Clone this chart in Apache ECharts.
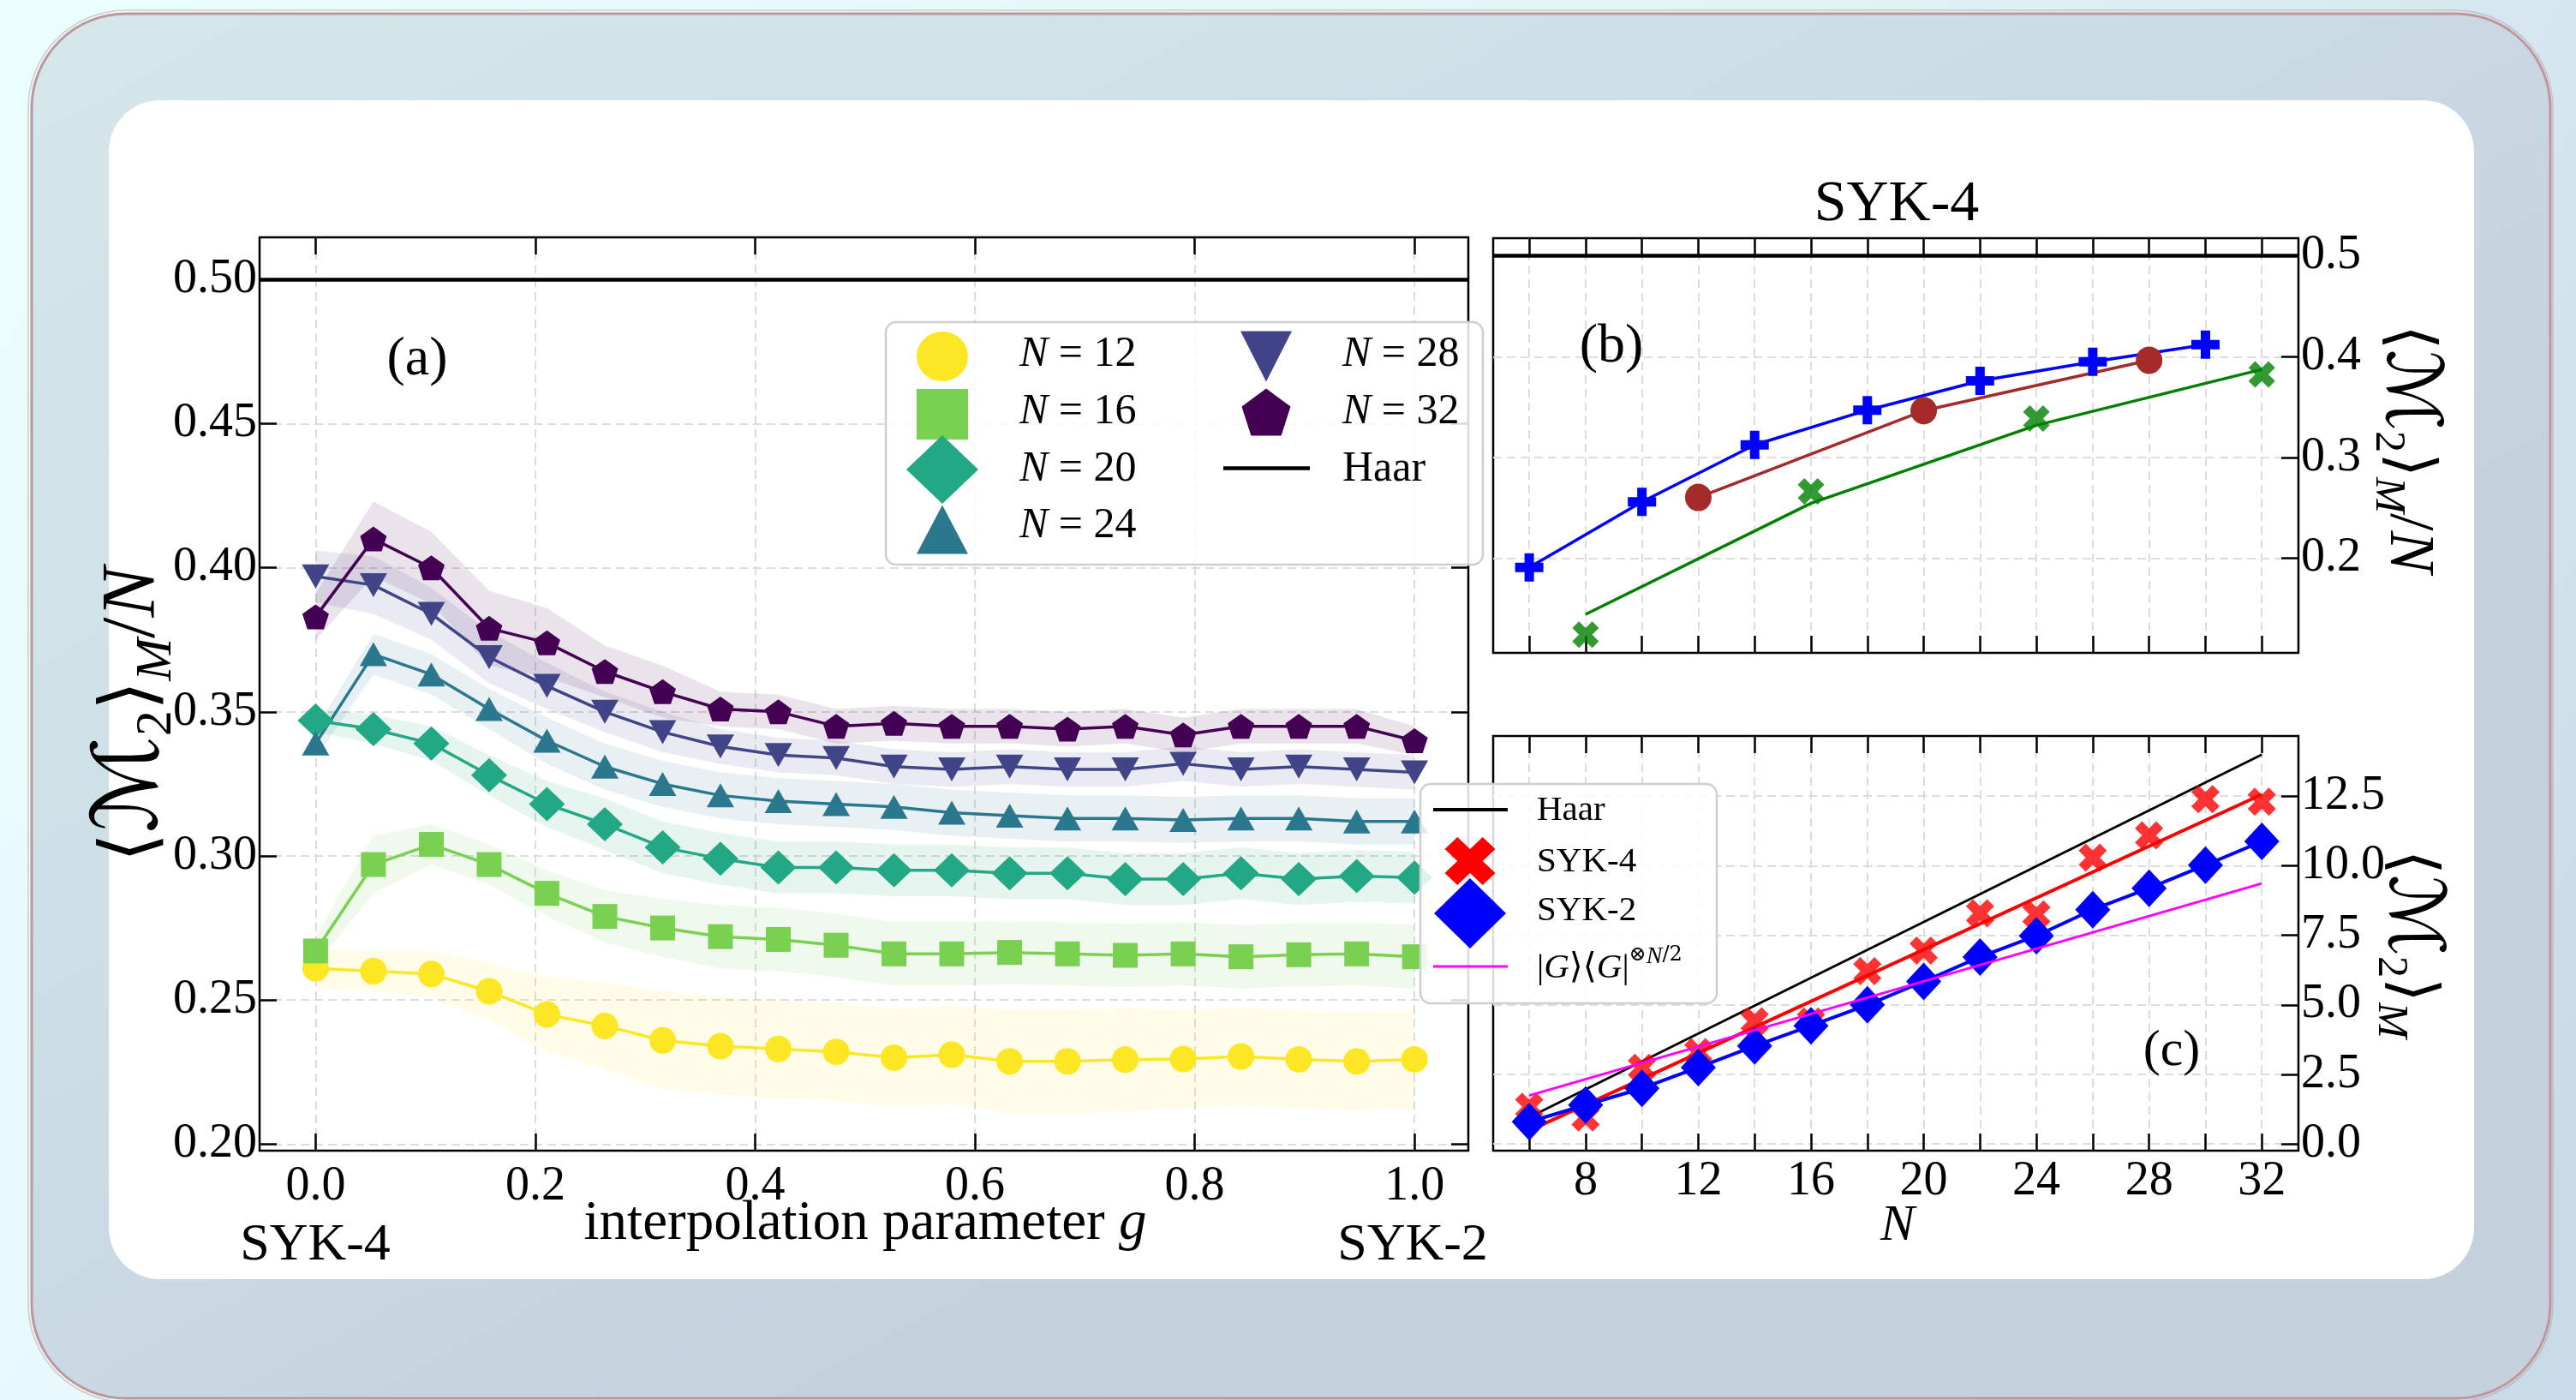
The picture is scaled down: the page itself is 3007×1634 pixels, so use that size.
<!DOCTYPE html>
<html>
<head>
<meta charset="utf-8">
<title>Magic of SYK models</title>
<script src="https://cdn.jsdelivr.net/npm/echarts@6.0.0/dist/echarts.min.js"></script>
<style>
  html, body { margin: 0; padding: 0; }
  #chart { width: 3007px; height: 1634px; }
</style>
</head>
<body>
<div id="chart"></div>
<script>
// ---------- panel (a): <M2>_M / N against the interpolation parameter g ----------
const G_SAMPLES = [0.0, 0.0526, 0.1053, 0.1579, 0.2105, 0.2632, 0.3158, 0.3684, 0.4211, 0.4737,
                   0.5263, 0.5789, 0.6316, 0.6842, 0.7368, 0.7895, 0.8421, 0.8947, 0.9474, 1.0];
const SIZES_N = [12, 16, 20, 24, 28, 32];

const M2N_N12 = [0.261, 0.260, 0.259, 0.253, 0.245, 0.241, 0.236, 0.234, 0.233, 0.232,
                 0.230, 0.231, 0.2287, 0.2287, 0.2293, 0.2295, 0.2304, 0.2294, 0.2287, 0.2294];
const M2N_N16 = [0.267, 0.297, 0.304, 0.297, 0.287, 0.279, 0.275, 0.272, 0.271, 0.269,
                 0.266, 0.266, 0.2665, 0.266, 0.2655, 0.266, 0.265, 0.2657, 0.266, 0.265];
const M2N_N20 = [0.347, 0.344, 0.339, 0.328, 0.318, 0.311, 0.303, 0.299, 0.296, 0.296,
                 0.295, 0.295, 0.294, 0.294, 0.292, 0.292, 0.294, 0.292, 0.293, 0.2925];
const M2N_N24 = [0.339, 0.370, 0.363, 0.351, 0.340, 0.331, 0.325, 0.321, 0.319, 0.318,
                 0.317, 0.315, 0.314, 0.313, 0.313, 0.3125, 0.313, 0.313, 0.312, 0.312];
const M2N_N28 = [0.397, 0.394, 0.384, 0.369, 0.359, 0.350, 0.343, 0.338, 0.335, 0.334,
                 0.331, 0.330, 0.331, 0.330, 0.330, 0.332, 0.330, 0.331, 0.330, 0.329];
const M2N_N32 = [0.383, 0.410, 0.400, 0.379, 0.374, 0.364, 0.357, 0.351, 0.350, 0.345,
                 0.346, 0.345, 0.345, 0.344, 0.345, 0.342, 0.345, 0.345, 0.345, 0.340];

// half-width of the shaded spread around each curve
const SPREAD_N12 = [0.007, 0.007, 0.008, 0.010, 0.013, 0.015, 0.017, 0.017, 0.017, 0.017,
                    0.017, 0.017, 0.018, 0.018, 0.018, 0.017, 0.017, 0.017, 0.017, 0.017];
const SPREAD_N16 = [0.005, 0.010, 0.007, 0.007, 0.008, 0.009, 0.010, 0.011, 0.011, 0.011,
                    0.011, 0.011, 0.011, 0.011, 0.011, 0.011, 0.011, 0.011, 0.011, 0.011];
const SPREAD_N20 = [0.004, 0.005, 0.006, 0.007, 0.008, 0.009, 0.009, 0.009, 0.009, 0.009,
                    0.009, 0.009, 0.009, 0.009, 0.009, 0.009, 0.009, 0.009, 0.009, 0.009];
const SPREAD_N24 = [0.005, 0.007, 0.007, 0.007, 0.008, 0.008, 0.008, 0.008, 0.008, 0.008,
                    0.008, 0.008, 0.008, 0.008, 0.008, 0.008, 0.008, 0.008, 0.008, 0.008];
const SPREAD_N28 = [0.009, 0.010, 0.009, 0.009, 0.008, 0.007, 0.007, 0.006, 0.006, 0.006,
                    0.006, 0.006, 0.006, 0.006, 0.006, 0.006, 0.006, 0.006, 0.006, 0.006];
const SPREAD_N32 = [0.008, 0.013, 0.0125, 0.013, 0.012, 0.009, 0.009, 0.006, 0.006, 0.006,
                    0.006, 0.006, 0.006, 0.006, 0.006, 0.006, 0.006, 0.006, 0.006, 0.005];

const G_TICKS = [0, 0.2, 0.4, 0.6, 0.8, 1.0];
const M2N_TICKS_A = [0.20, 0.25, 0.30, 0.35, 0.40, 0.45, 0.50];
const HAAR_M2N = 0.5;

// ---------- panel (b): SYK-4, <M2>_M / N against N ----------
const N_B_BLUE = [6, 10, 14, 18, 22, 26, 30];
const M2N_B_BLUE = [0.191, 0.256, 0.3125, 0.347, 0.376, 0.395, 0.412];
const N_B_BROWN = [12, 20, 28];
const M2N_B_BROWN = [0.2604, 0.3465, 0.3965];
const N_B_GREEN = [8, 16, 24, 32];
const M2N_B_GREEN = [0.1244, 0.2665, 0.3387, 0.3824];
const M2N_B_GREEN_TREND = [0.1445, 0.2547, 0.332, 0.3874];
const M2N_TICKS_B = [0.2, 0.3, 0.4, 0.5];

// ---------- panel (c): <M2>_M against N ----------
const N_C = [6, 8, 10, 12, 14, 16, 18, 20, 22, 24, 26, 28, 30, 32];
const M2_SYK4 = [1.34, 0.95, 2.74, 3.30, 4.41, 4.40, 6.21, 6.95, 8.29, 8.25, 10.29, 11.09, 12.39, 12.30];
const M2_SYK2 = [0.80, 1.40, 2.00, 2.75, 3.52, 4.25, 5.00, 5.84, 6.72, 7.48, 8.42, 9.19, 10.02, 10.87];
const N_LINE_ENDS = [6, 32];
const M2_HAAR_ENDS = [0.96, 13.99];
const M2_SYK4_FIT_ENDS = [0.48, 12.56];
const M2_PRODUCT_ENDS = [1.74, 9.36];
const M2_TICKS_C = [0, 2.5, 5, 7.5, 10, 12.5];
const N_TICKS = [6, 8, 10, 12, 14, 16, 18, 20, 22, 24, 26, 28, 30, 32];
const N_LABELS = [8, 12, 16, 20, 24, 28, 32];

// ---------- styling ----------
const FONT = "'Liberation Serif','DejaVu Serif',serif";
const MATH = "'DejaVu Serif','DejaVu Sans',serif";
const VIRIDIS = ['#fde725', '#7ad151', '#22a884', '#2a788e', '#414487', '#440154'];
const C_BLUE = '#0000ff', C_BROWN = '#a52a2a', C_GREEN = '#008000', C_RED = '#ff0000', C_MAGENTA = '#ff00ff';

const P_TRI_UP = 'M0,-1L1,1L-1,1Z';
const P_TRI_DOWN = 'M-1,-1L1,-1L0,1Z';
const P_DIAMOND = 'M0,-1L1,0L0,1L-1,0Z';
const P_PENTAGON = 'M0,-1L0.951,-0.309L0.588,0.809L-0.588,0.809L-0.951,-0.309Z';
const P_XFILL = 'M1.414,-2.828L2.828,-1.414L1.414,0L2.828,1.414L1.414,2.828L0,1.414L-1.414,2.828L-2.828,1.414L-1.414,0L-2.828,-1.414L-1.414,-2.828L0,-1.414Z';
const P_PLUSFILL = 'M-1,-3L1,-3L1,-1L3,-1L3,1L1,1L1,3L-1,3L-1,1L-3,1L-3,-1L-1,-1Z';

const SERIES_A = [
  { n: 12, values: M2N_N12, spread: SPREAD_N12, symbol: 'circle', size: 31 },
  { n: 16, values: M2N_N16, spread: SPREAD_N16, symbol: 'rect', size: 29 },
  { n: 20, values: M2N_N20, spread: SPREAD_N20, symbol: 'path://' + P_DIAMOND, size: [42, 40] },
  { n: 24, values: M2N_N24, spread: SPREAD_N24, symbol: 'path://' + P_TRI_UP, size: [32, 28] },
  { n: 28, values: M2N_N28, spread: SPREAD_N28, symbol: 'path://' + P_TRI_DOWN, size: [32, 28] },
  { n: 32, values: M2N_N32, spread: SPREAD_N32, symbol: 'path://' + P_PENTAGON, size: [31, 29] }
];

function rgba(hex, a) {
  const v = parseInt(hex.slice(1), 16);
  return 'rgba(' + ((v >> 16) & 255) + ',' + ((v >> 8) & 255) + ',' + (v & 255) + ',' + a + ')';
}
function pairs(xs, ys) { return xs.map((x, i) => [x, ys[i]]); }

const GRID_LINE = { color: '#dddddd', width: 2, type: [10, 6] };
const TICK_STYLE = { color: '#000', width: 2.5 };

function axis(o) {
  return {
    type: 'value', gridIndex: o.grid, position: o.position, min: o.min, max: o.max,
    axisLine: { show: false, onZero: false },
    axisTick: { show: true, inside: true, length: 20, lineStyle: TICK_STYLE, customValues: o.ticks },
    axisLabel: o.labels ? {
      show: true, customValues: o.labels, formatter: o.format, margin: o.margin,
      fontFamily: FONT, fontSize: 56, color: '#000'
    } : { show: false },
    splitLine: o.split ? { show: true, lineStyle: GRID_LINE } : { show: false }
  };
}

// ---------- series ----------
const series = [];

// shaded spreads for panel (a), drawn as one polygon each through the axis scales
SERIES_A.forEach((s, k) => {
  const color = VIRIDIS[k];
  series.push({
    type: 'custom', name: 'spread ' + s.n, xAxisIndex: 0, yAxisIndex: 0, z: 1, silent: true,
    data: G_SAMPLES.map((g, i) => [g, s.values[i] - s.spread[i], s.values[i] + s.spread[i]]),
    encode: { x: 0, y: [1, 2] },
    renderItem: function (params, api) {
      if (params.dataIndexInside !== 0) return null;
      const n = params.dataInsideLength;
      const upper = [], lower = [];
      for (let j = 0; j < n; j++) {
        upper.push(api.coord([api.value(0, j), api.value(2, j)]));
        lower.push(api.coord([api.value(0, j), api.value(1, j)]));
      }
      return { type: 'polygon', shape: { points: upper.concat(lower.reverse()) }, style: { fill: rgba(color, 0.11) } };
    }
  });
});

SERIES_A.forEach((s, k) => {
  const color = VIRIDIS[k];
  series.push({
    type: 'line', name: 'N = ' + s.n, xAxisIndex: 0, yAxisIndex: 0, z: 3,
    data: pairs(G_SAMPLES, s.values),
    symbol: s.symbol, symbolSize: s.size, showAllSymbol: true,
    lineStyle: { color: color, width: 3.5 }, itemStyle: { color: color, opacity: 1 },
    emphasis: { disabled: true }
  });
});

series.push({
  type: 'line', name: 'Haar (a)', xAxisIndex: 0, yAxisIndex: 0, data: [], z: 4,
  markLine: { silent: true, symbol: ['none', 'none'], label: { show: false },
    lineStyle: { color: '#000', width: 4.5, type: 'solid' }, data: [{ yAxis: HAAR_M2N }] }
});

// panel (b)
series.push({
  type: 'line', name: 'SYK-4 sweep 1', xAxisIndex: 2, yAxisIndex: 2, z: 3,
  data: pairs(N_B_BLUE, M2N_B_BLUE), symbol: 'path://' + P_PLUSFILL, symbolSize: 33,
  lineStyle: { color: C_BLUE, width: 3.5 }, itemStyle: { color: C_BLUE }, emphasis: { disabled: true }
});
series.push({
  type: 'line', name: 'SYK-4 sweep 2', xAxisIndex: 2, yAxisIndex: 2, z: 3,
  data: pairs(N_B_BROWN, M2N_B_BROWN), symbol: 'circle', symbolSize: [31, 32],
  lineStyle: { color: C_BROWN, width: 3.5 }, itemStyle: { color: C_BROWN }, emphasis: { disabled: true }
});
series.push({
  type: 'line', name: 'SYK-4 sweep 3 trend', xAxisIndex: 2, yAxisIndex: 2, z: 3,
  data: pairs(N_B_GREEN, M2N_B_GREEN_TREND), showSymbol: false,
  lineStyle: { color: C_GREEN, width: 3.5 }, emphasis: { disabled: true }
});
series.push({
  type: 'scatter', name: 'SYK-4 sweep 3', xAxisIndex: 2, yAxisIndex: 2, z: 4,
  data: pairs(N_B_GREEN, M2N_B_GREEN), symbol: 'path://' + P_XFILL, symbolSize: 31,
  itemStyle: { color: C_GREEN }, emphasis: { disabled: true }
});
series.push({
  type: 'line', name: 'Haar (b)', xAxisIndex: 2, yAxisIndex: 2, data: [], z: 4,
  markLine: { silent: true, symbol: ['none', 'none'], label: { show: false },
    lineStyle: { color: '#000', width: 4.5, type: 'solid' }, data: [{ yAxis: HAAR_M2N }] }
});

// panel (c)
series.push({
  type: 'line', name: 'Haar', xAxisIndex: 4, yAxisIndex: 3, z: 3,
  data: pairs(N_LINE_ENDS, M2_HAAR_ENDS), showSymbol: false,
  lineStyle: { color: '#000', width: 3 }, emphasis: { disabled: true }
});
series.push({
  type: 'scatter', name: 'SYK-4', xAxisIndex: 4, yAxisIndex: 3, z: 3,
  data: pairs(N_C, M2_SYK4), symbol: 'path://' + P_XFILL, symbolSize: 33,
  itemStyle: { color: C_RED }, emphasis: { disabled: true }
});
series.push({
  type: 'line', name: 'SYK-4 fit', xAxisIndex: 4, yAxisIndex: 3, z: 3,
  data: pairs(N_LINE_ENDS, M2_SYK4_FIT_ENDS), showSymbol: false,
  lineStyle: { color: C_RED, width: 4 }, emphasis: { disabled: true }
});
series.push({
  type: 'line', name: 'SYK-2', xAxisIndex: 4, yAxisIndex: 3, z: 4,
  data: pairs(N_C, M2_SYK2), symbol: 'path://' + P_DIAMOND, symbolSize: [41, 44],
  lineStyle: { color: C_BLUE, width: 4 }, itemStyle: { color: C_BLUE }, emphasis: { disabled: true }
});
series.push({
  type: 'line', name: 'product state', xAxisIndex: 4, yAxisIndex: 3, z: 5,
  data: pairs(N_LINE_ENDS, M2_PRODUCT_ENDS), showSymbol: false,
  lineStyle: { color: C_MAGENTA, width: 3 }, emphasis: { disabled: true }
});

// ---------- text and legend helpers ----------
function m2Rich(F) {
  const base = { fontFamily: FONT, fontSize: F, lineHeight: F * 1.3, color: '#000' };
  const sub = { fontFamily: FONT, fontSize: F * 0.68, lineHeight: F * 0.68, verticalAlign: 'bottom', color: '#000' };
  return {
    a: base,
    m: { fontFamily: MATH, fontStyle: 'italic', fontSize: F * 1.2, lineHeight: F * 1.3, color: '#000' },
    s: sub,
    si: Object.assign({}, sub, { fontStyle: 'italic' }),
    i: Object.assign({}, base, { fontStyle: 'italic' })
  };
}
function text(x, y, str, size, italic) {
  return {
    type: 'text', x: x, y: y, z: 20,
    style: { text: str, fontFamily: FONT, fontSize: size, fontStyle: italic ? 'italic' : 'normal', fill: '#000',
      align: 'center', verticalAlign: 'middle', textAlign: 'center', textVerticalAlign: 'middle' }
  };
}
function richText(x, y, str, rich, rotation, align, z) {
  return {
    type: 'text', x: x, y: y, z: z || 20, rotation: rotation || 0,
    style: { text: str, rich: rich, fill: '#000',
      align: align || 'center', verticalAlign: 'middle',
      textAlign: align || 'center', textVerticalAlign: 'middle' }
  };
}
// turn an "M..L..Z" outline into polygon points fitted into a w x h box around (cx, cy)
function marker(pathData, cx, cy, w, h, color) {
  const nums = pathData.match(/-?\d*\.?\d+/g).map(Number);
  const pts = [];
  for (let i = 0; i < nums.length; i += 2) pts.push([nums[i], nums[i + 1]]);
  const xs = pts.map(p => p[0]), ys = pts.map(p => p[1]);
  const x0 = Math.min.apply(null, xs), x1 = Math.max.apply(null, xs);
  const y0 = Math.min.apply(null, ys), y1 = Math.max.apply(null, ys);
  const points = pts.map(p => [cx - w / 2 + (p[0] - x0) / (x1 - x0) * w, cy - h / 2 + (p[1] - y0) / (y1 - y0) * h]);
  return { type: 'polygon', z: 31, shape: { points: points }, style: { fill: color } };
}
function legendLine(x1, x2, y, color, w) {
  return { type: 'line', z: 31, shape: { x1: x1, y1: y, x2: x2, y2: y }, style: { stroke: color, lineWidth: w } };
}

const legendRich = {
  t: { fontFamily: FONT, fontSize: 50, color: '#000' },
  i: { fontFamily: FONT, fontSize: 50, fontStyle: 'italic', color: '#000' }
};
const legendRichC = {
  t: { fontFamily: FONT, fontSize: 41, lineHeight: 54, color: '#000' },
  ti: { fontFamily: FONT, fontSize: 41, lineHeight: 54, fontStyle: 'italic', color: '#000' },
  sup: { fontFamily: MATH, fontSize: 24, lineHeight: 26, verticalAlign: 'top', color: '#000' },
  supi: { fontFamily: FONT, fontSize: 28, lineHeight: 26, verticalAlign: 'top', fontStyle: 'italic', color: '#000' }
};

const graphics = [
  // page backdrop and frame
  { type: 'rect', z: -30, shape: { x: 0, y: 0, width: 3007, height: 1634 },
    style: { fill: new echarts.graphic.LinearGradient(0, 0, 1, 1, [
      { offset: 0, color: '#ebfefe' }, { offset: 0.55, color: '#e2f3f6' }, { offset: 1, color: '#c8d9e7' }]) } },
  { type: 'rect', z: -29, shape: { x: 37, y: 16, width: 2940, height: 1616, r: 110 },
    style: { fill: new echarts.graphic.LinearGradient(0, 0, 0.3, 1, [
      { offset: 0, color: '#d6e7eb' }, { offset: 0.5, color: '#cde0e7' }, { offset: 1, color: '#c6d1de' }]),
      stroke: '#bd979c', lineWidth: 3 } },
  { type: 'rect', z: -28, shape: { x: 33, y: 12, width: 2947, height: 1624, r: 114 },
    style: { fill: null, stroke: 'rgba(190,150,156,0.5)', lineWidth: 1.5 } },
  { type: 'rect', z: -27, shape: { x: 127, y: 117, width: 2761, height: 1376, r: 60 },
    style: { fill: '#ffffff' } },

  // panel (a) annotations
  text(487, 420, '(a)', 64),
  text(368, 1454, 'SYK-4', 62),
  text(1649, 1454, 'SYK-2', 62),
  richText(1010, 1429, '{t|interpolation parameter }{i|g}', {
    t: { fontFamily: FONT, fontSize: 65, color: '#000' },
    i: { fontFamily: FONT, fontSize: 65, fontStyle: 'italic', color: '#000' } }),
  richText(156, 834, '{a|⟨}{m|ℳ}{s|2}{a|⟩}{si|M}{a|/}{i|N}', m2Rich(88), Math.PI / 2),

  // panel (b) annotations
  text(2214, 239, 'SYK-4', 68),
  text(1881, 405, '(b)', 64),
  richText(2810, 524, '{a|⟨}{m|ℳ}{s|2}{a|⟩}{si|M}{a|/}{i|N}', m2Rich(74), -Math.PI / 2),

  // panel (c) annotations
  text(2535, 1227, '(c)', 60),
  text(2215, 1431, 'N', 60, true),
  richText(2813, 1102, '{a|⟨}{m|ℳ}{s|2}{a|⟩}{si|M}', m2Rich(74), -Math.PI / 2),

  // legend of panel (a)
  { type: 'rect', z: 30, shape: { x: 1034, y: 376, width: 697, height: 283, r: 12 },
    style: { fill: 'rgba(255,255,255,0.85)', stroke: '#cfcfcf', lineWidth: 2.5 } },
  { type: 'ellipse', z: 31, shape: { cx: 1100, cy: 416, rx: 30, ry: 29 }, style: { fill: VIRIDIS[0] } },
  { type: 'rect', z: 31, shape: { x: 1070, y: 454, width: 60, height: 59 }, style: { fill: VIRIDIS[1] } },
  marker(P_DIAMOND, 1100, 548, 84, 80, VIRIDIS[2]),
  marker(P_TRI_UP, 1100, 618, 60, 57, VIRIDIS[3]),
  marker(P_TRI_DOWN, 1478, 416, 60, 59, VIRIDIS[4]),
  marker(P_PENTAGON, 1478, 481, 57, 55, VIRIDIS[5]),
  legendLine(1428, 1529, 546.5, '#000', 4.5),
  richText(1190, 414, '{i|N}{t| = 12}', legendRich, 0, 'left', 32),
  richText(1190, 481, '{i|N}{t| = 16}', legendRich, 0, 'left', 32),
  richText(1190, 548, '{i|N}{t| = 20}', legendRich, 0, 'left', 32),
  richText(1190, 614, '{i|N}{t| = 24}', legendRich, 0, 'left', 32),
  richText(1567, 414, '{i|N}{t| = 28}', legendRich, 0, 'left', 32),
  richText(1567, 481, '{i|N}{t| = 32}', legendRich, 0, 'left', 32),
  richText(1567, 548, '{t|Haar}', legendRich, 0, 'left', 32),

  // legend of panel (c)
  { type: 'rect', z: 30, shape: { x: 1658, y: 915, width: 346, height: 256, r: 12 },
    style: { fill: 'rgba(255,255,255,0.85)', stroke: '#cfcfcf', lineWidth: 2.5 } },
  legendLine(1673, 1760, 945, '#000', 4),
  marker(P_XFILL, 1716, 1005, 59, 56, C_RED),
  marker(P_DIAMOND, 1716, 1066, 84, 82, C_BLUE),
  legendLine(1673, 1760, 1128, C_MAGENTA, 3),
  richText(1794, 946, '{t|Haar}', legendRichC, 0, 'left', 32),
  richText(1794, 1006, '{t|SYK-4}', legendRichC, 0, 'left', 32),
  richText(1794, 1063, '{t|SYK-2}', legendRichC, 0, 'left', 32),
  richText(1794, 1130, '{t||}{ti|G}{t|⟩⟨}{ti|G}{t||}{sup|⊗}{supi|N}{sup|/2}', legendRichC, 0, 'left', 32)
];

const gridBox = { show: true, borderColor: '#000', borderWidth: 2.5, backgroundColor: 'transparent', containLabel: false };

const option = {
  animation: false,
  backgroundColor: '#ffffff',
  grid: [
    Object.assign({ left: 303, top: 277, width: 1411, height: 1066 }, gridBox),
    Object.assign({ left: 1743, top: 278, width: 940, height: 484 }, gridBox),
    Object.assign({ left: 1743, top: 859, width: 940, height: 484 }, gridBox)
  ],
  xAxis: [
    axis({ grid: 0, position: 'bottom', min: -0.051, max: 1.049, ticks: G_TICKS, labels: G_TICKS,
      format: v => v.toFixed(1), margin: 14, split: true }),
    axis({ grid: 0, position: 'top', min: -0.051, max: 1.049, ticks: G_TICKS }),
    axis({ grid: 1, position: 'bottom', min: 4.72, max: 33.3, ticks: N_TICKS, split: true }),
    axis({ grid: 1, position: 'top', min: 4.72, max: 33.3, ticks: N_TICKS }),
    axis({ grid: 2, position: 'bottom', min: 4.72, max: 33.3, ticks: N_TICKS, labels: N_LABELS,
      format: v => String(v), margin: 8, split: true }),
    axis({ grid: 2, position: 'top', min: 4.72, max: 33.3, ticks: N_TICKS })
  ],
  yAxis: [
    axis({ grid: 0, position: 'left', min: 0.1977, max: 0.5147, ticks: M2N_TICKS_A, labels: M2N_TICKS_A,
      format: v => v.toFixed(2), margin: 3, split: true }),
    axis({ grid: 0, position: 'right', min: 0.1977, max: 0.5147, ticks: M2N_TICKS_A }),
    axis({ grid: 1, position: 'right', min: 0.1063, max: 0.5175, ticks: M2N_TICKS_B, labels: M2N_TICKS_B,
      format: v => v.toFixed(1), margin: 3, split: true }),
    axis({ grid: 2, position: 'right', min: -0.24, max: 14.66, ticks: M2_TICKS_C, labels: M2_TICKS_C,
      format: v => v.toFixed(1), margin: 3, split: true })
  ],
  series: series,
  graphic: { elements: graphics }
};

const chart = echarts.init(document.getElementById('chart'), null, { renderer: 'canvas', width: 3007, height: 1634 });
chart.setOption(option);
</script>
</body>
</html>
